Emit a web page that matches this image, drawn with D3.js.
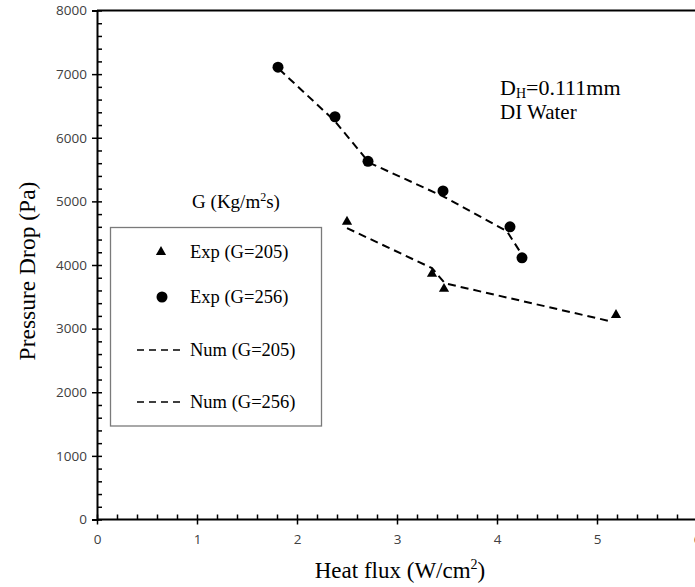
<!DOCTYPE html>
<html>
<head>
<meta charset="utf-8">
<script src="https://cdn.jsdelivr.net/npm/d3@7"></script>
<style>
  html, body { margin: 0; padding: 0; background: #fff; }
  svg { display: block; }
</style>
</head>
<body>
<svg id="chart" width="695" height="587"></svg>
<script>
// Heat flux (W/cm²) and pressure drop (Pa), experiment vs. numerical model
const expG205X = [2.50, 3.35, 3.47, 5.19];
const expG205Y = [4680, 3860, 3625, 3215];
const expG256X = [1.81, 2.38, 2.71, 3.46, 4.13, 4.25];
const expG256Y = [7110, 6330, 5630, 5165, 4600, 4112];
const numG205X = [2.50, 3.35, 3.48, 5.15];
const numG205Y = [4580, 3950, 3712, 3110];
const numG256X = [1.82, 2.38, 2.72, 3.46, 4.10, 4.23];
const numG256Y = [7080, 6260, 5610, 5080, 4530, 4210];

const xTicks = [0, 1, 2, 3, 4, 5, 6];
const yTicks = [0, 1000, 2000, 3000, 4000, 5000, 6000, 7000, 8000];
const legendLabels = ["Exp (G=205)", "Exp (G=256)", "Num (G=205)", "Num (G=256)"];

const svg = d3.select("#chart");
const x = d3.scaleLinear().domain([0, 6]).range([97, 697]);
const y = d3.scaleLinear().domain([0, 8000]).range([519.5, 10.5]);

const serif = "'Liberation Serif', 'Times New Roman', serif";
const sans = "'Open Sans', 'Noto Sans', sans-serif";

// top frame line
svg.append("line")
  .attr("x1", x(0)).attr("x2", 695)
  .attr("y1", y(8000)).attr("y2", y(8000))
  .attr("stroke", "#000").attr("stroke-width", 2);

// minor ticks (inside the plot)
const xMinor = d3.range(0, 6.001, 0.2).filter(v => Math.abs(v - Math.round(v)) > 1e-6);
const yMinor = d3.range(0, 8001, 200).filter(v => v % 1000 !== 0);

const xAxisMinor = svg.append("g")
  .attr("transform", `translate(0,${y(0)})`)
  .call(d3.axisBottom(x).tickValues(xMinor).tickSize(-5).tickFormat(""));
const yAxisMinor = svg.append("g")
  .attr("transform", `translate(${x(0)},0)`)
  .call(d3.axisLeft(y).tickValues(yMinor).tickSize(-5).tickFormat(""));
[xAxisMinor, yAxisMinor].forEach(g => {
  g.select(".domain").remove();
  g.selectAll(".tick line").attr("stroke", "#000").attr("stroke-width", 1.5);
});

// major axes, ticks crossing the axis line
const xAxis = svg.append("g")
  .attr("transform", `translate(0,${y(0)})`)
  .call(d3.axisBottom(x).tickValues(xTicks).tickSize(5).tickPadding(10).tickFormat(d3.format("d")));
xAxis.selectAll(".tick line").attr("y1", -5);
const yAxis = svg.append("g")
  .attr("transform", `translate(${x(0)},0)`)
  .call(d3.axisLeft(y).tickValues(yTicks).tickSize(5).tickPadding(5).tickFormat(d3.format("d")));
yAxis.selectAll(".tick line").attr("x1", 5);

[xAxis, yAxis].forEach(g => {
  g.select(".domain").attr("stroke", "#000").attr("stroke-width", 2);
  g.selectAll(".tick line").attr("stroke", "#000").attr("stroke-width", 1.5);
  g.selectAll(".tick text")
    .attr("fill", "#404040")
    .style("font-family", sans)
    .style("font-size", "13.5px");
});
xAxis.select(".domain").attr("d", `M${x(0)},0H695`);

// axis titles
const xTitle = svg.append("text")
  .attr("x", 400).attr("y", 578)
  .attr("text-anchor", "middle")
  .style("font-family", serif).style("font-size", "23px").attr("fill", "#000");
xTitle.append("tspan").text("Heat flux (W/cm");
xTitle.append("tspan").attr("dy", -9).style("font-size", "14px").text("2");
xTitle.append("tspan").attr("dy", 9).text(")");

svg.append("text")
  .attr("transform", "translate(35,271) rotate(-90)")
  .attr("text-anchor", "middle")
  .style("font-family", serif).style("font-size", "23.5px").attr("fill", "#000")
  .text("Pressure Drop (Pa)");

// numerical dashed curves
const line = d3.line().x(d => x(d[0])).y(d => y(d[1]));
const numSeries = [
  d3.zip(numG205X, numG205Y),
  d3.zip(numG256X, numG256Y)
];
svg.append("g").selectAll("path")
  .data(numSeries)
  .join("path")
  .attr("d", line)
  .attr("fill", "none")
  .attr("stroke", "#000")
  .attr("stroke-width", 2)
  .attr("stroke-dasharray", "8,5");

// experimental markers
const tri = d3.symbol().type(d3.symbolTriangle).size(45);
svg.append("g").selectAll("path")
  .data(d3.zip(expG205X, expG205Y))
  .join("path")
  .attr("d", tri)
  .attr("transform", d => `translate(${x(d[0])},${y(d[1])})`)
  .attr("fill", "#000");

svg.append("g").selectAll("circle")
  .data(d3.zip(expG256X, expG256Y))
  .join("circle")
  .attr("cx", d => x(d[0])).attr("cy", d => y(d[1]))
  .attr("r", 5.5)
  .attr("fill", "#000");

// annotation
const ann = svg.append("text")
  .attr("x", 500).attr("y", 95)
  .style("font-family", serif).style("font-size", "22px").attr("fill", "#000");
ann.append("tspan").text("D");
ann.append("tspan").attr("dy", 3).style("font-size", "14px").text("H");
ann.append("tspan").attr("dy", -3).text("=0.111mm");
svg.append("text")
  .attr("x", 500).attr("y", 119)
  .style("font-family", serif).style("font-size", "21px").attr("fill", "#000")
  .text("DI Water");

// legend
const lg = svg.append("g");
const lgTitle = lg.append("text")
  .attr("x", 236).attr("y", 208)
  .attr("text-anchor", "middle")
  .style("font-family", serif).style("font-size", "19px").attr("fill", "#000");
lgTitle.append("tspan").text("G (Kg/m");
lgTitle.append("tspan").attr("dy", -7).style("font-size", "12px").text("2");
lgTitle.append("tspan").attr("dy", 7).text("s)");

lg.append("rect")
  .attr("x", 110.5).attr("y", 227.5)
  .attr("width", 211).attr("height", 198.5)
  .attr("fill", "none").attr("stroke", "#7a7a7a").attr("stroke-width", 1.3);

const rowY = [252, 297, 350, 402];
lg.selectAll("text.entry")
  .data(legendLabels)
  .join("text")
  .attr("class", "entry")
  .attr("x", 190).attr("y", (d, i) => rowY[i] + 6)
  .style("font-family", serif).style("font-size", "18.5px").attr("fill", "#000")
  .text(d => d);
lg.append("path").attr("d", tri)
  .attr("transform", `translate(161,${rowY[0]})`).attr("fill", "#000");
lg.append("circle").attr("cx", 162).attr("cy", rowY[1]).attr("r", 5.5).attr("fill", "#000");
[rowY[2], rowY[3]].forEach(ry => {
  lg.append("line")
    .attr("x1", 137).attr("x2", 182)
    .attr("y1", ry).attr("y2", ry)
    .attr("stroke", "#000").attr("stroke-width", 1.6)
    .attr("stroke-dasharray", "7,5");
});
</script>
</body>
</html>
